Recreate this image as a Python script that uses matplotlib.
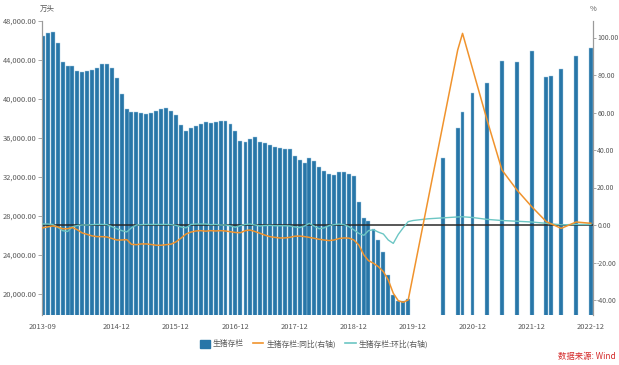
import pandas as pd
import matplotlib
matplotlib.use("Agg")
import matplotlib.pyplot as plt
from matplotlib.ticker import FuncFormatter
from matplotlib.patches import Patch
from matplotlib.lines import Line2D

plt.rcParams['font.family'] = ['Noto Sans CJK SC', 'DejaVu Sans']

# monthly hog inventory 2013-09 .. 2019-11 (万头)
monthly_start = "2013-09"
monthly_stock = [
    46490, 46740, 46850, 45710, 43800, 43400, 43400, 42840, 42800, 42880,
    43000, 43200, 43600, 43540, 43150, 42170, 40540, 38980, 38700, 38690,
    38600, 38450, 38530, 38750, 38960, 39080, 38800, 38360, 37330, 36690,
    37010, 37220, 37390, 37610, 37570, 37670, 37710, 37700, 37470, 36740,
    35690, 35590, 35930, 36100, 35560, 35490, 35250, 35080, 35010, 34900,
    34900, 34150, 33740, 33450, 33900, 33640, 33000, 32620, 32340, 32240,
    32480, 32510, 32280, 32100, 29400, 27800, 27500, 26680, 25580, 24280,
    21980, 19860, 19240, 19240, 19480,
]
monthly_yoy = [
    -1.5, -1.0, -0.5, -1.0, -2.0, -2.0, -1.3, -2.5, -4.2, -5.0,
    -5.8, -6.2, -6.2, -6.4, -7.2, -8.0, -8.0, -7.8, -10.3, -10.5,
    -10.1, -10.1, -10.4, -10.8, -10.8, -10.5, -10.2, -9.0, -7.0, -4.8,
    -3.8, -3.2, -3.0, -3.3, -3.0, -3.2, -3.0, -3.2, -3.6, -4.0,
    -4.1, -3.0, -2.7, -3.5, -4.4, -5.4, -6.2, -6.6, -6.9, -6.9,
    -6.6, -6.0, -5.9, -6.2, -6.6, -7.1, -7.6, -8.0, -8.3, -8.0,
    -7.2, -6.9, -7.0, -8.0, -10.7, -16.0, -19.0, -20.4, -22.2, -24.9,
    -29.3, -36.4, -40.4, -41.2, -40.0,
]
monthly_mom = [
    0.5, 0.5, 0.3, -1.2, -3.0, -3.5, -1.0, -0.3, 0.0, 0.0,
    0.2, 0.3, 0.3, 0.2, -0.9, -2.0, -3.0, -3.7, -1.5, 0.0,
    0.2, 0.3, 0.3, 0.3, 0.3, 0.3, 0.2, -0.2, -1.0, -1.5,
    0.3, 0.5, 0.5, 0.5, 0.2, 0.3, 0.0, 0.0, -0.5, -1.2,
    -0.3, 0.3, 0.5, 0.0, -0.5, -0.3, -0.2, -0.4, -0.4, -0.4,
    -0.5, -1.0, -1.4, -0.5, 0.9, -0.6, -2.0, -1.5, -0.3, 0.2,
    0.5, 0.2, -0.9, -2.6, -4.5, -5.5, -3.0, -2.5, -3.8, -4.8,
    -8.0, -9.8, -5.0, -1.5, 1.8,
]

# later, sparser observations
later_stock_months = ["2020-06", "2020-09", "2020-10", "2020-12", "2021-03", "2021-06",
                      "2021-09", "2021-12", "2022-03", "2022-04", "2022-06", "2022-09", "2022-12"]
later_stock = [33996, 37039, 38700, 40650, 41595, 43911,
               43764, 44922, 42253, 42360, 43057, 44394, 45256]
later_yoy_months = ["2020-09", "2020-10", "2021-03", "2021-06", "2021-09",
                    "2021-12", "2022-03", "2022-06", "2022-09", "2022-12"]
later_yoy = [93.3, 102.2, 56.0, 29.3, 18.7, 9.8, 1.8, -1.8, 1.6, 0.9]
later_mom_months = ["2019-12", "2020-03", "2020-06", "2020-09", "2020-10", "2020-12", "2021-03",
                    "2021-06", "2021-09", "2021-12", "2022-03", "2022-06", "2022-09", "2022-12"]
later_mom = [2.4, 3.3, 3.8, 4.3, 4.4, 4.0, 3.0, 2.4, 2.0, 1.6, 0.9, 0.1, 0.3, 0.3]

tick_labels = ["2013-09", "2014-12", "2015-12", "2016-12", "2017-12",
               "2018-12", "2019-12", "2020-12", "2021-12", "2022-12"]

months = pd.date_range(monthly_start, periods=len(monthly_stock), freq="MS")
stock = pd.Series(monthly_stock, index=months)
stock = pd.concat([stock, pd.Series(later_stock, index=pd.to_datetime(later_stock_months))])
yoy = pd.Series(monthly_yoy, index=months)
yoy = pd.concat([yoy, pd.Series(later_yoy, index=pd.to_datetime(later_yoy_months))])
mom = pd.Series(monthly_mom, index=months)
mom = pd.concat([mom, pd.Series(later_mom, index=pd.to_datetime(later_mom_months))])

bar_c = "#2876a8"
yoy_c = "#f0932d"
mom_c = "#6cc6c4"
grey = "#9a9a9a"
text_c = "#595959"

fig = plt.figure(figsize=(6.19, 3.65), dpi=100)
ax = fig.add_axes([42 / 619, 1 - 315 / 365, (593 - 42) / 619, (315 - 21) / 365])
ax.bar(stock.index, stock.values, width=24, color=bar_c, edgecolor="#a8cde4", linewidth=0.3, zorder=2)
ax.set_ylim(17850, 48000)
ax.set_xlim(pd.Timestamp("2013-08-27"), pd.Timestamp("2022-12-14"))
ax.set_yticks([20000, 24000, 28000, 32000, 36000, 40000, 44000, 48000])
ax.yaxis.set_major_formatter(FuncFormatter(lambda v, p: f"{v:,.2f}"))

ax2 = ax.twinx()
ax2.set_ylim(-48, 108.8)
ax2.set_yticks([-40, -20, 0, 20, 40, 60, 80, 100])
ax2.yaxis.set_major_formatter(FuncFormatter(lambda v, p: f"{v:.2f}".replace("\u2212", "-")))
ax2.axhline(0, color="#2a2a2a", lw=1.1, zorder=1)
ax2.plot(mom.index, mom.values, color=mom_c, lw=1.0, zorder=3)
ax2.plot(yoy.index, yoy.values, color=yoy_c, lw=1.1, zorder=4)

for a in (ax, ax2):
    for s in ("top", "bottom"):
        a.spines[s].set_visible(False)
    a.spines["left"].set_color(grey)
    a.spines["right"].set_color(grey)
    a.spines["left"].set_linewidth(0.8)
    a.spines["right"].set_linewidth(0.8)
ax.tick_params(axis="y", colors=grey, labelcolor=text_c, labelsize=5.4, length=3, width=0.6, pad=1)
ax2.tick_params(axis="y", colors=grey, labelcolor=text_c, labelsize=5.0, length=2.5, width=0.6, pad=0.5)

ax.set_xticks(pd.to_datetime(tick_labels))
ax.set_xticklabels(tick_labels)
ax.tick_params(axis="x", length=0, labelsize=5.4, labelcolor=text_c, pad=6)

fig.text(40 / 619, 1 - 9 / 365, "万头", fontsize=5.4, color=text_c, ha="left", va="center")
fig.text(593 / 619, 1 - 9 / 365, "%", fontsize=5.4, color=text_c, ha="center", va="center")

handles = [
    Patch(facecolor=bar_c, edgecolor=bar_c),
    Line2D([], [], color=yoy_c, lw=1.2),
    Line2D([], [], color=mom_c, lw=1.2),
]
labels = ["生猪存栏", "生猪存栏:同比(右轴)", "生猪存栏:环比(右轴)"]
fig.legend(handles, labels, loc="center", bbox_to_anchor=(314 / 619, 1 - 344 / 365), ncol=3,
           frameon=False, fontsize=5.6, handlelength=1.3, handleheight=1.3, handletextpad=0.4,
           columnspacing=1.2, labelcolor=text_c)

fig.text(616 / 619, 1 - 356 / 365, "数据来源: Wind", fontsize=6, color="#d42a2a", ha="right", va="center")

fig.savefig("out.png", dpi=100)
